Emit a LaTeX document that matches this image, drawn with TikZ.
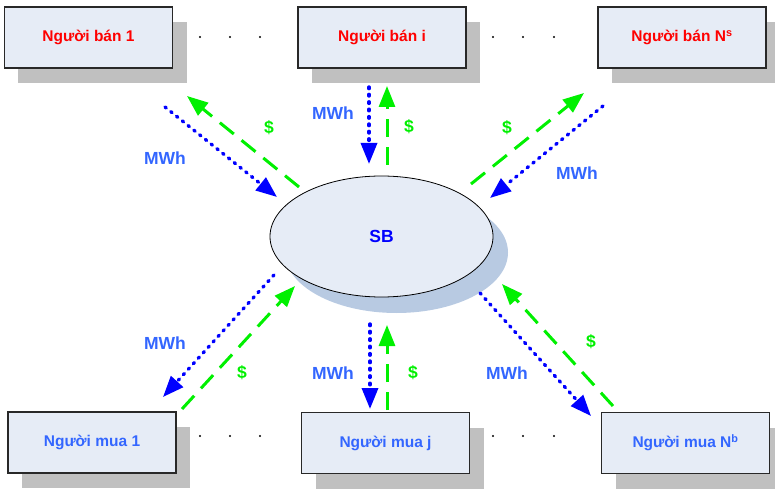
\documentclass[tikz,border=0pt]{standalone}
\usepackage{fontspec}
\setmainfont{Liberation Sans}
\usetikzlibrary{arrows.meta,shapes.geometric,shadows}
\definecolor{boxfill}{RGB}{230,236,246}
\definecolor{boxshadow}{RGB}{192,192,192}
\definecolor{ellshadow}{RGB}{184,202,226}
\definecolor{sellred}{RGB}{255,0,0}
\definecolor{buyblue}{RGB}{51,102,255}
\definecolor{mwhblue}{RGB}{51,102,255}
\definecolor{flowblue}{RGB}{0,0,255}
\definecolor{flowgreen}{RGB}{0,240,0}
\tikzset{
  party/.style={draw={rgb,255:red,40;green,40;blue,40}, line width=1.1bp, fill=boxfill,
    minimum width=168bp, minimum height=61bp, inner sep=0pt,
    font=\bfseries\fontsize{15.5bp}{18bp}\selectfont,
    drop shadow={shadow xshift=14bp, shadow yshift=-15bp, fill=boxshadow, opacity=1}},
  seller/.style={party, text=sellred},
  buyer/.style={party, text=buyblue},
  mwhflow/.style={draw=flowblue, line width=3.4bp, line cap=round,
    dash pattern=on 1.6bp off 5.8bp, -{Triangle[length=21bp,width=16bp]}},
  moneyflow/.style={draw=flowgreen, line width=3bp,
    dash pattern=on 18bp off 10bp, -{Triangle[length=21bp,width=16bp]}},
  mwhlabel/.style={text=mwhblue, font=\bfseries\fontsize{17.5bp}{20bp}\selectfont, inner sep=0pt},
  moneylabel/.style={text=flowgreen, font=\bfseries\fontsize{17.5bp}{20bp}\selectfont, inner sep=0pt},
  dotmark/.style={circle, fill=black, inner sep=0pt, minimum size=2.2bp}
}
\begin{document}
\begin{tikzpicture}[x=1bp,y=-1bp]
\useasboundingbox (0,0) rectangle (775,489);
% seller boxes
\node[seller] (s1) at (88.5,37.5) {Người bán 1};
\node[seller] (si) at (382,37.5) {Người bán i};
\node[seller] (sN) at (682,37.5) {Người bán N\textsuperscript{s}};
% buyer boxes
\node[buyer] (b1) at (92,442.5) {Người mua 1};
\node[buyer] (bj) at (385.5,443) {Người mua j};
\node[buyer] (bN) at (685.5,443) {Người mua N\textsuperscript{b}};
% dots
\foreach \x/\n in {200/a,230/b,260/c,493/d,523/e,554/f}{
  \node[dotmark] (td\n) at (\x,37) {};
  \node[dotmark] (bd\n) at (\x,436) {};
}
% system buyer ellipse
\node[ellipse, draw=black, line width=0.8bp, fill=boxfill, minimum width=223bp, minimum height=121bp,
  inner sep=0pt, text=flowblue, font=\bfseries\fontsize{17.5bp}{20bp}\selectfont,
  drop shadow={shadow xshift=15bp, shadow yshift=-16bp, fill=ellshadow, opacity=1}] (SB) at (381.5,236.5) {SB};
% connector end points
\coordinate (m1a) at (165,107);  \coordinate (m1b) at (277,197);
\coordinate (g1a) at (299,187);  \coordinate (g1b) at (187,96);
\coordinate (m2a) at (369,87);   \coordinate (m2b) at (369,164);
\coordinate (g2a) at (387,165);  \coordinate (g2b) at (387,86);
\coordinate (m3a) at (603,106);  \coordinate (m3b) at (490,198);
\coordinate (g3a) at (471,184);  \coordinate (g3b) at (584,93);
\coordinate (m4a) at (274,275);  \coordinate (m4b) at (163,397);
\coordinate (g4a) at (182,409);  \coordinate (g4b) at (295,286);
\coordinate (m5a) at (370,324);  \coordinate (m5b) at (370,409);
\coordinate (g5a) at (387,410);  \coordinate (g5b) at (387,325);
\coordinate (m6a) at (480,293);  \coordinate (m6b) at (591,416);
\coordinate (g6a) at (613,406);  \coordinate (g6b) at (502,284);
\foreach \i in {1,...,6}{
  \draw[mwhflow] (m\i a) -- (m\i b);
  \draw[moneyflow] (g\i a) -- (g\i b);
}
% labels
\node[mwhlabel] (l1) at (165,158) {MWh};
\node[moneylabel] (d1) at (269,128) {\$};
\node[mwhlabel] (l2) at (333,113) {MWh};
\node[moneylabel] (d2) at (409,127) {\$};
\node[mwhlabel] (l3) at (577,173) {MWh};
\node[moneylabel] (d3) at (507,128) {\$};
\node[mwhlabel] (l4) at (165,343) {MWh};
\node[moneylabel] (d4) at (242,373) {\$};
\node[mwhlabel] (l5) at (333,373) {MWh};
\node[moneylabel] (d5) at (413,373) {\$};
\node[mwhlabel] (l6) at (507,373) {MWh};
\node[moneylabel] (d6) at (591,342) {\$};
\end{tikzpicture}
\end{document}
